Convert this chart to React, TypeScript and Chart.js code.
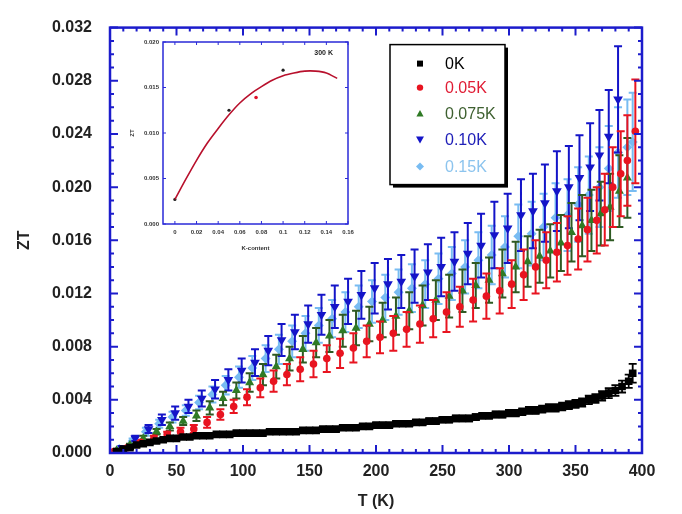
import React, { useEffect, useRef } from 'react';
import { Chart, registerables } from 'chart.js';
Chart.register(...registerables);

// ---------- Main chart data ----------
const T_0K = [
  5, 10, 15, 20, 25, 30, 35, 40, 45, 50,
  55, 60, 65, 70, 75, 80, 85, 90, 95, 100,
  105, 110, 115, 120, 125, 130, 135, 140, 145, 150,
  155, 160, 165, 170, 175, 180, 185, 190, 195, 200,
  205, 210, 215, 220, 225, 230, 235, 240, 245, 250,
  255, 260, 265, 270, 275, 280, 285, 290, 295, 300,
  305, 310, 315, 320, 325, 330, 335, 340, 345, 350,
  355, 360, 365, 370, 375, 380, 385, 390, 393];
const ZT_0K = [
  0.0001, 0.0003, 0.0004, 0.0006, 0.0007, 0.0008, 0.0009, 0.0010, 0.0011, 0.0011,
  0.0012, 0.0012, 0.0013, 0.0013, 0.0013, 0.0014, 0.0014, 0.0014, 0.0015, 0.0015,
  0.0015, 0.0015, 0.0015, 0.0016, 0.0016, 0.0016, 0.0016, 0.0016, 0.0017, 0.0017,
  0.0017, 0.0018, 0.0018, 0.0018, 0.0019, 0.0019, 0.0019, 0.0020, 0.0020, 0.0021,
  0.0021, 0.0021, 0.0022, 0.0022, 0.0022, 0.0023, 0.0023, 0.0024, 0.0024, 0.0025,
  0.0025, 0.0026, 0.0026, 0.0026, 0.0027, 0.0028, 0.0028, 0.0029, 0.0029, 0.0030,
  0.0030, 0.0031, 0.0032, 0.0032, 0.0033, 0.0034, 0.0034, 0.0035, 0.0036, 0.0037,
  0.0038, 0.0040, 0.0041, 0.0043, 0.0045, 0.0047, 0.0050, 0.0054, 0.0060];
const ERR_0K = [
  0.0001, 0.0001, 0.0001, 0.0001, 0.0001, 0.0001, 0.0001, 0.0001, 0.0001, 0.0001,
  0.0001, 0.0001, 0.0001, 0.0001, 0.0001, 0.0001, 0.0001, 0.0001, 0.0001, 0.0001,
  0.0001, 0.0001, 0.0001, 0.00012, 0.00012, 0.00012, 0.00012, 0.00012, 0.00013, 0.00013,
  0.00013, 0.00014, 0.00014, 0.00014, 0.00015, 0.00015, 0.00015, 0.00016, 0.00016, 0.00017,
  0.00017, 0.00017, 0.00018, 0.00018, 0.00018, 0.00019, 0.00019, 0.0002, 0.0002, 0.0002,
  0.0002, 0.00021, 0.00021, 0.00021, 0.00022, 0.00022, 0.00022, 0.00023, 0.00023, 0.00024,
  0.00024, 0.00025, 0.00026, 0.00026, 0.00027, 0.00028, 0.00028, 0.00029, 0.0003, 0.0003,
  0.00031, 0.00032, 0.00033, 0.00035, 0.00037, 0.0004, 0.00045, 0.0005, 0.0007];

const T_005K = [
  3, 13, 23, 33, 43, 53, 63, 73, 83, 93,
  103, 113, 123, 133, 143, 153, 163, 173, 183, 193,
  203, 213, 223, 233, 243, 253, 263, 273, 283, 293,
  302, 311, 320, 328, 336, 344, 352, 359, 366, 372,
  378, 384, 389, 395];
const ZT_005K = [
  0.0001, 0.0004, 0.0008, 0.0011, 0.0014, 0.0016, 0.0018, 0.0023, 0.0029, 0.0035,
  0.0042, 0.0049, 0.0054, 0.0059, 0.0063, 0.0067, 0.0071, 0.0075, 0.0079, 0.0084,
  0.0087, 0.0090, 0.0093, 0.0097, 0.0101, 0.0106, 0.0110, 0.0115, 0.0118, 0.0122,
  0.0127, 0.0134, 0.0140, 0.0145, 0.0151, 0.0156, 0.0161, 0.0168, 0.0175, 0.0183,
  0.0200, 0.0210, 0.0220, 0.0242];
const ERR_005K = [
  0.0000, 0.0001, 0.0001, 0.0002, 0.0002, 0.0003, 0.0003, 0.0004, 0.0004, 0.0005,
  0.0006, 0.0007, 0.0008, 0.0008, 0.0009, 0.0010, 0.0010, 0.0011, 0.0011, 0.0012,
  0.0012, 0.0013, 0.0013, 0.0014, 0.0014, 0.0015, 0.0015, 0.0016, 0.0017, 0.0017,
  0.0018, 0.0019, 0.0020, 0.0021, 0.0022, 0.0022, 0.0023, 0.0024, 0.0025, 0.0027,
  0.0030, 0.0032, 0.0034, 0.0039];

const T_0075K = [
  5, 15, 25, 35, 45, 55, 65, 75, 85, 95,
  105, 115, 125, 135, 145, 155, 165, 175, 185, 195,
  205, 215, 225, 235, 245, 255, 265, 275, 285, 295,
  305, 314, 323, 331, 339, 347, 355, 362, 369, 376,
  383, 389];
const ZT_0075K = [
  0.0002, 0.0006, 0.0011, 0.0016, 0.0020, 0.0024, 0.0028, 0.0034, 0.0041, 0.0047,
  0.0053, 0.0059, 0.0065, 0.0071, 0.0078, 0.0083, 0.0088, 0.0092, 0.0094, 0.0097,
  0.0100, 0.0103, 0.0107, 0.0111, 0.0115, 0.0118, 0.0122, 0.0126, 0.0130, 0.0135,
  0.0140, 0.0144, 0.0148, 0.0152, 0.0158, 0.0166, 0.0171, 0.0175, 0.0180, 0.0185,
  0.0197, 0.0207];
const ERR_0075K = [
  0.0001, 0.0001, 0.0002, 0.0002, 0.0003, 0.0003, 0.0004, 0.0005, 0.0005, 0.0006,
  0.0007, 0.0008, 0.0009, 0.0009, 0.0010, 0.0011, 0.0012, 0.0012, 0.0013, 0.0013,
  0.0013, 0.0014, 0.0014, 0.0015, 0.0015, 0.0016, 0.0016, 0.0017, 0.0017, 0.0018,
  0.0019, 0.0019, 0.0020, 0.0020, 0.0021, 0.0022, 0.0023, 0.0023, 0.0024, 0.0025,
  0.0027, 0.0030];

const T_010K = [
  9, 19, 29, 39, 49, 59, 69, 79, 89, 99,
  109, 119, 129, 139, 149, 159, 169, 179, 189, 199,
  209, 219, 229, 239, 249, 259, 269, 279, 289, 299,
  309, 318, 327, 336, 345, 353, 361, 368, 375, 382];
const ZT_010K = [
  0.0004, 0.0011, 0.0018, 0.0025, 0.0030, 0.0035, 0.0041, 0.0048, 0.0055, 0.0062,
  0.0068, 0.0077, 0.0085, 0.0091, 0.0097, 0.0104, 0.0110, 0.0114, 0.0119, 0.0124,
  0.0127, 0.0129, 0.0133, 0.0136, 0.0140, 0.0144, 0.0150, 0.0156, 0.0164, 0.0169,
  0.0179, 0.0182, 0.0188, 0.0197, 0.0200, 0.0207, 0.0215, 0.0224, 0.0238, 0.0266];
const ERR_010K = [
  0.0001, 0.0002, 0.0003, 0.0004, 0.0005, 0.0005, 0.0006, 0.0007, 0.0008, 0.0009,
  0.0010, 0.0011, 0.0012, 0.0013, 0.0014, 0.0015, 0.0016, 0.0017, 0.0018, 0.0019,
  0.0019, 0.0020, 0.0020, 0.0021, 0.0022, 0.0022, 0.0023, 0.0024, 0.0025, 0.0026,
  0.0027, 0.0028, 0.0029, 0.0030, 0.0031, 0.0032, 0.0033, 0.0034, 0.0035, 0.0040];

const T_015K = [
  7, 17, 27, 37, 47, 57, 67, 77, 87, 97,
  107, 117, 127, 137, 147, 157, 167, 177, 187, 197,
  207, 217, 227, 237, 247, 257, 267, 277, 287, 297,
  307, 317, 326, 335, 344, 352, 360, 368, 375, 382,
  389, 393];
const ZT_015K = [
  0.0003, 0.0009, 0.0016, 0.0022, 0.0027, 0.0032, 0.0038, 0.0044, 0.0051, 0.0057,
  0.0064, 0.0071, 0.0078, 0.0084, 0.0090, 0.0096, 0.0101, 0.0106, 0.0110, 0.0114,
  0.0117, 0.0121, 0.0124, 0.0127, 0.0131, 0.0135, 0.0140, 0.0145, 0.0149, 0.0155,
  0.0163, 0.0165, 0.0170, 0.0177, 0.0179, 0.0187, 0.0194, 0.0200, 0.0214, 0.0226,
  0.0230, 0.0234];
const ERR_015K = [
  0.0001, 0.0002, 0.0003, 0.0003, 0.0004, 0.0004, 0.0005, 0.0006, 0.0007, 0.0008,
  0.0009, 0.0010, 0.0011, 0.0012, 0.0013, 0.0013, 0.0014, 0.0015, 0.0016, 0.0016,
  0.0017, 0.0017, 0.0018, 0.0018, 0.0019, 0.0020, 0.0020, 0.0021, 0.0022, 0.0023,
  0.0024, 0.0024, 0.0025, 0.0026, 0.0027, 0.0028, 0.0029, 0.0030, 0.0032, 0.0034,
  0.0036, 0.0037];

const SERIES_LABELS = ['0K', '0.05K', '0.075K', '0.10K', '0.15K'];
const X_TICKS = [0, 50, 100, 150, 200, 250, 300, 350, 400];
const Y_TICKS = [0, 0.004, 0.008, 0.012, 0.016, 0.02, 0.024, 0.028, 0.032];

// ---------- Inset data ----------
const K_CONTENT = [0, 0.05, 0.075, 0.1];
const ZT_300K = [0.0027, 0.0125, 0.0139, 0.0169];
const FIT_K = [0, 0.01, 0.02, 0.03, 0.04, 0.05, 0.06, 0.07, 0.08, 0.09, 0.1, 0.11, 0.12, 0.13, 0.14, 0.15];
const FIT_ZT = [0.0027, 0.0049, 0.0070, 0.0089, 0.0105, 0.0120, 0.0133, 0.0143, 0.0151, 0.0158, 0.0163, 0.0166, 0.0168, 0.0168, 0.0166, 0.0160];
const INSET_X_TICKS = [0, 0.02, 0.04, 0.06, 0.08, 0.1, 0.12, 0.14, 0.16];
const INSET_Y_TICKS = [0, 0.005, 0.01, 0.015, 0.02];

const FRAME_BLUE = '#1c1ccc';
const FONT = '"Liberation Sans", Arial, Helvetica, sans-serif';

function pts(xs: number[], ys: number[]) {
  return xs.map((x, i) => ({ x, y: ys[i] }));
}

function drawFrameTicks(chart: any, o: any) {
  const { ctx, chartArea: a, scales } = chart;
  const xs = scales.x, ys = scales.y;
  ctx.save();
  ctx.strokeStyle = o.color;
  ctx.lineWidth = o.tickWidth;
  ctx.beginPath();
  const tick = (v: number, len: number, horiz: boolean) => {
    if (horiz) {
      const p = xs.getPixelForValue(v);
      ctx.moveTo(p, a.bottom); ctx.lineTo(p, a.bottom - len);
      ctx.moveTo(p, a.top); ctx.lineTo(p, a.top + len);
    } else {
      const p = ys.getPixelForValue(v);
      ctx.moveTo(a.left, p); ctx.lineTo(a.left + len, p);
      ctx.moveTo(a.right, p); ctx.lineTo(a.right - len, p);
    }
  };
  o.xMajor.forEach((v: number) => tick(v, o.major, true));
  o.xMinor.forEach((v: number) => tick(v, o.minor, true));
  o.yMajor.forEach((v: number) => tick(v, o.major, false));
  o.yMinor.forEach((v: number) => tick(v, o.minor, false));
  ctx.stroke();
  ctx.lineWidth = o.frameWidth;
  ctx.strokeRect(a.left, a.top, a.right - a.left, a.bottom - a.top);
  ctx.restore();
}

function markerPath(ctx: CanvasRenderingContext2D, style: string, x: number, y: number, r: number) {
  ctx.beginPath();
  if (style === 'rect') {
    ctx.rect(x - r, y - r, 2 * r, 2 * r);
  } else if (style === 'circle') {
    ctx.arc(x, y, r, 0, Math.PI * 2);
  } else if (style === 'triangle') {
    ctx.moveTo(x, y - r); ctx.lineTo(x + r, y + r * 0.8); ctx.lineTo(x - r, y + r * 0.8); ctx.closePath();
  } else if (style === 'down') {
    ctx.moveTo(x, y + r); ctx.lineTo(x + r, y - r * 0.8); ctx.lineTo(x - r, y - r * 0.8); ctx.closePath();
  } else {
    ctx.moveTo(x, y - r); ctx.lineTo(x + r, y); ctx.lineTo(x, y + r); ctx.lineTo(x - r, y); ctx.closePath();
  }
}

const errorBarPlugin = {
  id: 'errorBars',
  beforeDatasetDraw(chart: any, args: any) {
    const ds = chart.data.datasets[args.index];
    if (!ds.errors) return;
    const { ctx } = chart;
    const xs = chart.scales.x, ys = chart.scales.y;
    ctx.save();
    ctx.strokeStyle = ds.errorColor;
    ctx.lineWidth = ds.errorWidth;
    ctx.beginPath();
    ds.data.forEach((p: any, i: number) => {
      const e = ds.errors[i];
      const x = xs.getPixelForValue(p.x);
      const yt = ys.getPixelForValue(p.y + e);
      const yb = ys.getPixelForValue(p.y - e);
      const c = ds.capHalf;
      ctx.moveTo(x, yt); ctx.lineTo(x, yb);
      ctx.moveTo(x - c, yt); ctx.lineTo(x + c, yt);
      ctx.moveTo(x - c, yb); ctx.lineTo(x + c, yb);
    });
    ctx.stroke();
    ctx.restore();
  },
};

const mainDecor = {
  id: 'mainDecor',
  afterDraw(chart: any) {
    const xMinor: number[] = [];
    for (let v = 0; v <= 400; v += 10) if (v % 50 !== 0) xMinor.push(v);
    const yMinor: number[] = [];
    for (let k = 0; k <= 32; k++) if (k % 4 !== 0) yMinor.push(k / 1000);
    drawFrameTicks(chart, {
      color: FRAME_BLUE, tickWidth: 2, frameWidth: 2.5, major: 8, minor: 4,
      xMajor: X_TICKS, xMinor, yMajor: Y_TICKS, yMinor,
    });
    // legend
    const { ctx, chartArea: a } = chart;
    const bx = a.left + 280, by = a.top + 17, bw = 115, bh = 140;
    ctx.save();
    ctx.fillStyle = '#000';
    ctx.fillRect(bx + 3, by + 3, bw, bh);
    ctx.fillStyle = '#fff';
    ctx.fillRect(bx, by, bw, bh);
    ctx.strokeStyle = '#000';
    ctx.lineWidth = 1.5;
    ctx.strokeRect(bx, by, bw, bh);
    const rows = [19, 43, 69, 95, 122];
    const styles = ['rect', 'circle', 'triangle', 'down', 'diamond'];
    const sizes = [3, 3.2, 3.6, 4, 4];
    ctx.font = `16px ${FONT}`;
    ctx.textBaseline = 'middle';
    chart.data.datasets.forEach((ds: any, i: number) => {
      const y = by + rows[i];
      markerPath(ctx, styles[i], bx + 30, y, sizes[i]);
      ctx.fillStyle = ds.backgroundColor;
      ctx.fill();
      ctx.fillStyle = ds.legendText;
      ctx.fillText(ds.label, bx + 55, y + 1);
    });
    ctx.restore();
  },
};

const insetDecor = {
  id: 'insetDecor',
  afterDraw(chart: any) {
    drawFrameTicks(chart, {
      color: '#2a2ad8', tickWidth: 1, frameWidth: 1.5, major: 3, minor: 0,
      xMajor: INSET_X_TICKS, xMinor: [], yMajor: INSET_Y_TICKS, yMinor: [],
    });
    const { ctx, chartArea: a } = chart;
    ctx.save();
    ctx.font = `bold 7px ${FONT}`;
    ctx.fillStyle = '#222';
    ctx.textAlign = 'right';
    ctx.textBaseline = 'middle';
    ctx.fillText('300 K', a.right - 15, a.top + 11);
    ctx.restore();
  },
};

export default function App() {
  const mainRef = useRef<HTMLCanvasElement>(null);
  const insetRef = useRef<HTMLCanvasElement>(null);

  useEffect(() => {
    const mk = (label: string, xs: number[], ys: number[], errs: number[], color: string, errColor: string,
      legendText: string, pointStyle: string, radius: number, rotation: number, capHalf: number, errW: number) => ({
      label, data: pts(xs, ys), errors: errs, errorColor: errColor, errorWidth: errW, capHalf, legendText,
      backgroundColor: color, borderColor: color, borderWidth: 0, pointStyle, pointRadius: radius,
      pointRotation: rotation, showLine: false,
    });
    const datasets: any[] = [
      mk(SERIES_LABELS[0], T_0K, ZT_0K, ERR_0K, '#000000', '#000000', '#000000', 'rect', 5.4, 0, 4, 1.8),
      mk(SERIES_LABELS[1], T_005K, ZT_005K, ERR_005K, '#e81420', '#e81420', '#e01c34', 'circle', 3.8, 0, 4, 2),
      mk(SERIES_LABELS[2], T_0075K, ZT_0075K, ERR_0075K, '#2f7a25', '#2e5a22', '#3e6030', 'triangle', 5.2, 0, 4, 2),
      mk(SERIES_LABELS[3], T_010K, ZT_010K, ERR_010K, '#1414c8', '#1414c8', '#2020b8', 'triangle', 5.6, 180, 4, 2),
      mk(SERIES_LABELS[4], T_015K, ZT_015K, ERR_015K, '#78bcf2', '#78bcf2', '#8cc4ee', 'rectRot', 5, 0, 4, 2),
    ];

    const main = new Chart(mainRef.current!, {
      type: 'scatter',
      data: { datasets },
      plugins: [errorBarPlugin, mainDecor],
      options: {
        animation: false,
        responsive: false,
        devicePixelRatio: 1,
        layout: { padding: { top: 16, right: 40, left: 0, bottom: 0 } },
        plugins: { legend: { display: false }, tooltip: { enabled: false } },
        scales: {
          x: {
            type: 'linear', min: 0, max: 400,
            afterBuildTicks: (s: any) => { s.ticks = X_TICKS.map((v) => ({ value: v })); },
            afterFit: (s: any) => { s.height = 61; },
            grid: { display: false, drawTicks: false },
            border: { display: false },
            ticks: { padding: 9, color: '#222', font: { family: FONT, size: 16, weight: 'bold' }, callback: (v: any) => String(v), maxRotation: 0 },
            title: { display: true, text: 'T (K)', color: '#222', font: { family: FONT, size: 16, weight: 'bold' }, padding: { top: 0, bottom: 3 } },
          },
          y: {
            type: 'linear', min: 0, max: 0.032,
            afterBuildTicks: (s: any) => { s.ticks = Y_TICKS.map((v) => ({ value: v })); },
            afterFit: (s: any) => { s.width = 110; },
            grid: { display: false, drawTicks: false },
            border: { display: false },
            ticks: { padding: 18, color: '#222', font: { family: FONT, size: 16, weight: 'bold' }, callback: (v: any) => Number(v).toFixed(3) },
            title: { display: true, text: 'ZT', color: '#222', font: { family: FONT, size: 16, weight: 'bold' }, padding: { top: 15, bottom: 0 } },
          },
        },
      } as any,
    });

    const inset = new Chart(insetRef.current!, {
      type: 'scatter',
      data: {
        datasets: [
          { label: 'fit', data: pts(FIT_K, FIT_ZT), showLine: true, borderColor: '#b8102c', borderWidth: 1.6, pointRadius: 0, tension: 0.3, fill: false },
          { label: 'x', data: pts([K_CONTENT[0], K_CONTENT[1], K_CONTENT[3]], [ZT_300K[0], ZT_300K[1], ZT_300K[3]]), backgroundColor: '#222', borderWidth: 0, pointRadius: 1.6 },
          { label: 'r', data: pts([K_CONTENT[2]], [ZT_300K[2]]), backgroundColor: '#e0102a', borderWidth: 0, pointRadius: 1.8 },
        ] as any,
      },
      plugins: [insetDecor],
      options: {
        animation: false,
        responsive: false,
        devicePixelRatio: 1,
        layout: { padding: { top: 14, right: 17, left: 0, bottom: 0 } },
        plugins: { legend: { display: false }, tooltip: { enabled: false } },
        scales: {
          x: {
            type: 'linear', min: -0.011, max: 0.16,
            afterBuildTicks: (s: any) => { s.ticks = INSET_X_TICKS.map((v) => ({ value: v })); },
            afterFit: (s: any) => { s.height = 32; },
            grid: { display: false, drawTicks: false },
            border: { display: false },
            ticks: { padding: 5, color: '#333', font: { family: FONT, size: 6, weight: 'bold' }, callback: (v: any) => String(Number(Number(v).toFixed(2))), maxRotation: 0, autoSkip: false },
            title: { display: true, text: 'K-content', color: '#333', font: { family: FONT, size: 6, weight: 'bold' }, padding: { top: 0, bottom: 4 } },
          },
          y: {
            type: 'linear', min: 0, max: 0.02,
            afterBuildTicks: (s: any) => { s.ticks = INSET_Y_TICKS.map((v) => ({ value: v })); },
            afterFit: (s: any) => { s.width = 48; },
            grid: { display: false, drawTicks: false },
            border: { display: false },
            ticks: { padding: 4, color: '#333', font: { family: FONT, size: 6, weight: 'bold' }, callback: (v: any) => Number(v).toFixed(3) },
            title: { display: true, text: 'ZT', color: '#333', font: { family: FONT, size: 6, weight: 'bold' }, padding: { top: 14, bottom: 0 } },
          },
        },
      } as any,
    });

    return () => { main.destroy(); inset.destroy(); };
  }, []);

  return (
    <div style={{ position: 'absolute', left: 0, top: 0, width: 682, height: 514, background: '#fff' }}>
      <canvas ref={mainRef} width={682} height={514} style={{ position: 'absolute', left: 0, top: 0, width: 682, height: 514 }} />
      <canvas ref={insetRef} width={250} height={228} style={{ position: 'absolute', left: 115, top: 28, width: 250, height: 228 }} />
    </div>
  );
}
